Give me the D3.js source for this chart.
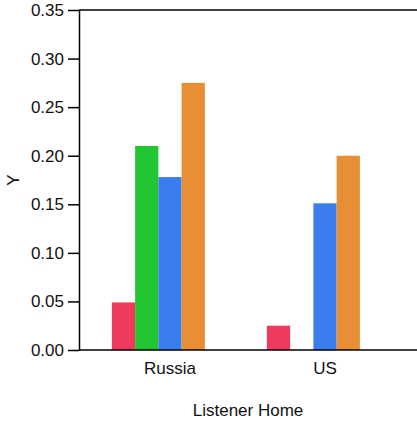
<!DOCTYPE html>
<html>
<head>
<meta charset="utf-8">
<script src="https://cdn.jsdelivr.net/npm/d3@7"></script>
<style>
  html, body { margin: 0; padding: 0; background: #fff; }
  svg { display: block; }
  text { font-family: "Liberation Sans", Arial, sans-serif; fill: #111; }
</style>
</head>
<body>
<svg id="chart" width="417" height="423"></svg>
<script>
const categories = ["Russia", "US"];
const seriesNames = ["S1", "S2", "S3", "S4", "S5"];
const seriesColors = ["#EF3A5D", "#22C532", "#3A7DED", "#E88F36", "#8E5CD6"];
const russiaValues = [0.049, 0.210, 0.178, 0.275, null];
const usValues = [0.025, null, 0.151, 0.200, null];
const yTicks = [0, 0.05, 0.10, 0.15, 0.20, 0.25, 0.30, 0.35];
const xTitle = "Listener Home";
const yTitle = "Y";

const valuesByCat = { "Russia": russiaValues, "US": usValues };

const svg = d3.select("#chart");
const m = { left: 79, top: 10, right: 417, bottom: 350 };

const y = d3.scaleLinear().domain([0, 0.35]).range([m.bottom, m.top]);
const x0 = d3.scaleBand().domain(categories).range([m.left, 416])
  .paddingInner(0.25).paddingOuter(0.212);
const x1 = d3.scaleBand().domain(seriesNames).range([0, x0.bandwidth()]);

// bars
const groups = svg.append("g").selectAll("g").data(categories).join("g")
  .attr("transform", d => `translate(${x0(d)},0)`);
groups.selectAll("rect")
  .data(c => seriesNames.map((s, i) => ({ s, i, v: valuesByCat[c][i] })).filter(d => d.v != null))
  .join("rect")
  .attr("x", d => x1(d.s))
  .attr("width", x1.bandwidth())
  .attr("y", d => y(d.v))
  .attr("height", d => y(0) - y(d.v))
  .attr("fill", d => seriesColors[d.i]);

// frame lines
svg.append("line").attr("x1", m.left).attr("x2", m.right).attr("y1", m.top).attr("y2", m.top)
  .attr("stroke", "#000").attr("stroke-width", 1.5);
svg.append("line").attr("x1", m.left).attr("x2", m.right).attr("y1", m.bottom).attr("y2", m.bottom)
  .attr("stroke", "#000").attr("stroke-width", 1.5);

// y axis
const yAxis = svg.append("g").attr("transform", `translate(${m.left},0)`)
  .call(d3.axisLeft(y).tickValues(yTicks).tickFormat(d3.format(".2f")).tickSize(11).tickSizeOuter(0).tickPadding(4));
yAxis.select(".domain").attr("stroke", "#000").attr("stroke-width", 1.5);
yAxis.selectAll(".tick line").attr("stroke", "#000").attr("stroke-width", 1.5);
yAxis.selectAll(".tick text").attr("font-size", 17).attr("font-family", "Liberation Sans, Arial, sans-serif").attr("fill", "#111");

// x category labels
svg.append("g").selectAll("text").data(categories).join("text")
  .attr("x", d => x0(d) + x0.bandwidth() / 2)
  .attr("y", 374)
  .attr("text-anchor", "middle")
  .attr("font-size", 17)
  .text(d => d);

// titles
svg.append("text").attr("x", 248).attr("y", 416).attr("text-anchor", "middle")
  .attr("font-size", 17).text(xTitle);
svg.append("text").attr("transform", "translate(19,180) rotate(-90)").attr("text-anchor", "middle")
  .attr("font-size", 17).text(yTitle);
</script>
</body>
</html>
